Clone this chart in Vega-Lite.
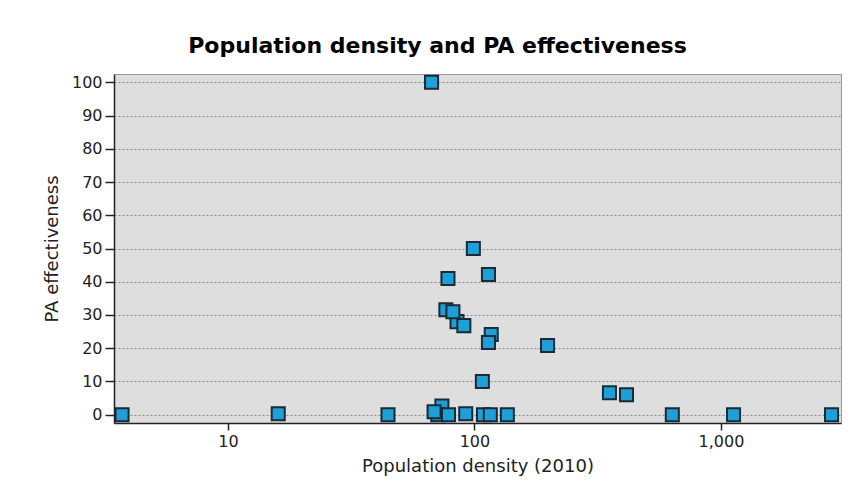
{
  "$schema": "https://vega.github.io/schema/vega-lite/v6.json",
  "width": 727,
  "height": 349,
  "autosize": {"type": "none"},
  "padding": {"left": 114, "top": 74, "right": 15, "bottom": 78},
  "background": "white",
  "title": {
    "text": "Population density and PA effectiveness",
    "fontSize": 22,
    "font": "DejaVu Sans",
    "fontWeight": "bold",
    "color": "#000000",
    "anchor": "middle",
    "dx": -40,
    "offset": 14
  },
  "config": {
    "view": {"fill": "#dedede", "stroke": "#9a9a9a", "strokeWidth": 1},
    "axis": {
      "labelFont": "DejaVu Sans",
      "titleFont": "DejaVu Sans",
      "labelFontSize": 16,
      "titleFontSize": 18,
      "titleFontWeight": "normal",
      "labelColor": "#222222",
      "titleColor": "#222222",
      "domainColor": "#222222",
      "domainWidth": 1.5,
      "tickColor": "#222222",
      "tickWidth": 1.5
    }
  },
  "data": {
    "values": [
      {"density": 3.72, "effectiveness": 0},
      {"density": 16.0, "effectiveness": 0.3},
      {"density": 44.6, "effectiveness": 0},
      {"density": 67.0, "effectiveness": 100},
      {"density": 73.8, "effectiveness": 2.6},
      {"density": 71.0, "effectiveness": 0},
      {"density": 78.5, "effectiveness": 0},
      {"density": 68.6, "effectiveness": 0.9},
      {"density": 92.2, "effectiveness": 0.3},
      {"density": 108.8, "effectiveness": 0},
      {"density": 116, "effectiveness": 0},
      {"density": 136, "effectiveness": 0},
      {"density": 99, "effectiveness": 50},
      {"density": 78.1, "effectiveness": 41},
      {"density": 114, "effectiveness": 42.2},
      {"density": 76.6, "effectiveness": 31.6},
      {"density": 85, "effectiveness": 28},
      {"density": 81.8, "effectiveness": 31.0},
      {"density": 90.6, "effectiveness": 26.8},
      {"density": 117, "effectiveness": 24.1},
      {"density": 114, "effectiveness": 21.7},
      {"density": 107.7, "effectiveness": 10},
      {"density": 198, "effectiveness": 20.8},
      {"density": 353, "effectiveness": 6.6},
      {"density": 414, "effectiveness": 6.0},
      {"density": 635, "effectiveness": 0},
      {"density": 1125, "effectiveness": 0},
      {"density": 2810, "effectiveness": 0}
    ]
  },
  "mark": {
    "type": "point",
    "shape": "square",
    "filled": true,
    "size": 170,
    "fill": "#1f9fd8",
    "stroke": "#1a2a36",
    "strokeWidth": 2,
    "opacity": 1
  },
  "encoding": {
    "x": {
      "field": "density",
      "type": "quantitative",
      "scale": {"type": "log", "domain": [3.45, 3070], "nice": false},
      "axis": {
        "title": "Population density (2010)",
        "values": [10, 100, 1000],
        "format": ",",
        "grid": false,
        "tickSize": 7,
        "labelPadding": 3,
        "titlePadding": 8
      }
    },
    "y": {
      "field": "effectiveness",
      "type": "quantitative",
      "scale": {"domain": [-2.5, 102.5], "nice": false, "zero": false},
      "axis": {
        "title": "PA effectiveness",
        "values": [0, 10, 20, 30, 40, 50, 60, 70, 80, 90, 100],
        "grid": true,
        "gridColor": "#8a8a8a",
        "gridDash": [2, 2],
        "gridWidth": 1,
        "tickSize": 9,
        "labelPadding": 3,
        "titlePadding": 10
      }
    }
  }
}
